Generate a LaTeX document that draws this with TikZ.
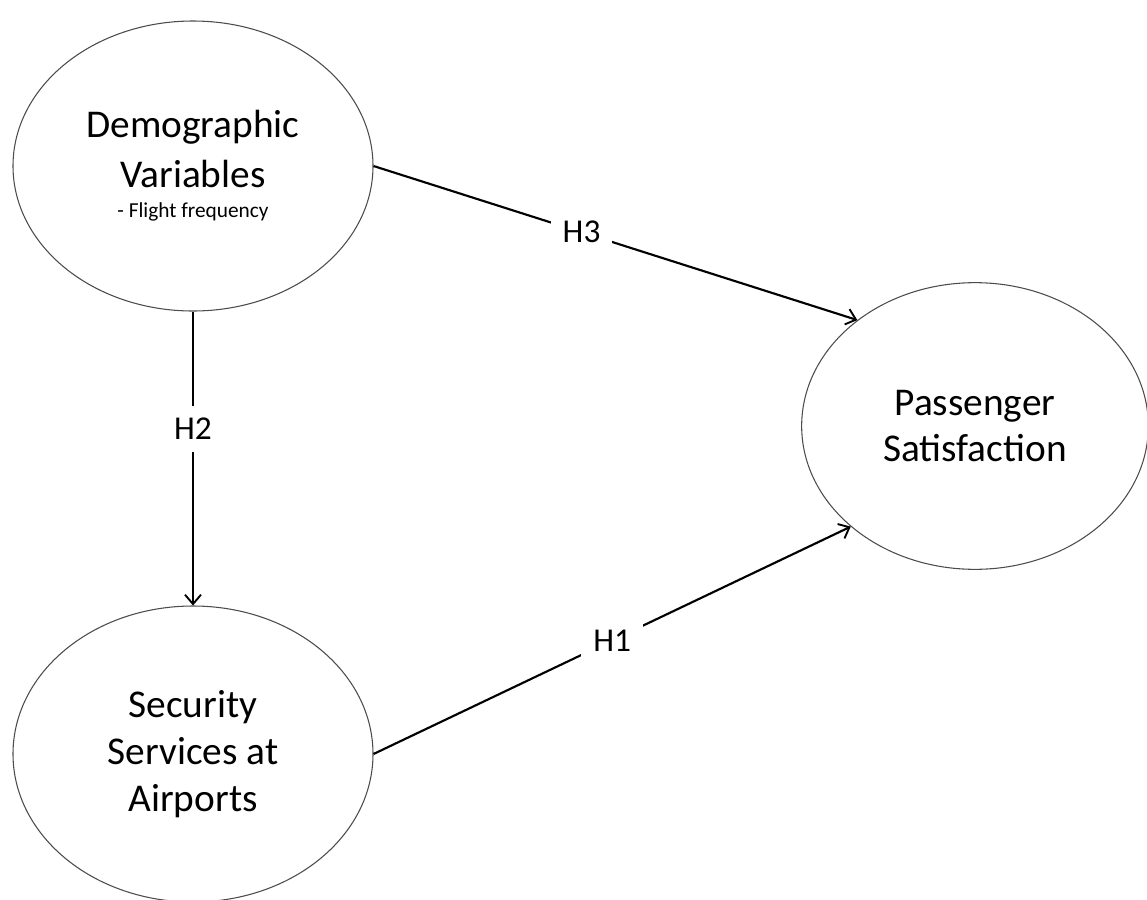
\documentclass[tikz,border=0pt]{standalone}
\usepackage{fontspec}
\setmainfont{Carlito}
\usetikzlibrary{shapes.geometric,arrows.meta}
\begin{document}
\begin{tikzpicture}[x=0.75pt,y=-0.75pt,
  construct/.style={ellipse,draw=black!70,line width=0.8pt,inner sep=0pt,align=center,
     font=\fontsize{29.5}{35}\selectfont},
  hyp/.style={-{Straight Barb[length=7pt,width=12pt,line width=1.4pt]},line width=1.6pt,black},
  hlabel/.style={fill=white,inner sep=9pt,font=\fontsize{25}{30}\selectfont}]
\useasboundingbox (0,0) rectangle (1147,900);
\node[construct,minimum width=270pt,minimum height=217.5pt] (dem) at (193,166) {};
\node[font=\fontsize{29.5}{37}\selectfont,align=center,anchor=base] (demtxt) at (193,187) {Demographic\\Variables};
\node[font=\fontsize{16}{19}\selectfont,anchor=base] (demsub) at (193,217) {- Flight frequency};
\node[construct,minimum width=270pt,minimum height=222pt] (sec) at (193,754) {Security\\Services at\\Airports};
\node[construct,minimum width=260pt,minimum height=215pt] (pas) at (975,426) {Passenger\\Satisfaction};
\draw[hyp] (dem.east) -- node[hlabel,pos=0.43] (h3) {H3} (pas.138);
\draw[hyp] (dem.south) -- node[hlabel,pos=0.40] (h2) {H2} (sec.north);
\draw[hyp] (sec.east) -- node[hlabel,pos=0.50] (h1) {H1} (pas.219.6);
\end{tikzpicture}
\end{document}
